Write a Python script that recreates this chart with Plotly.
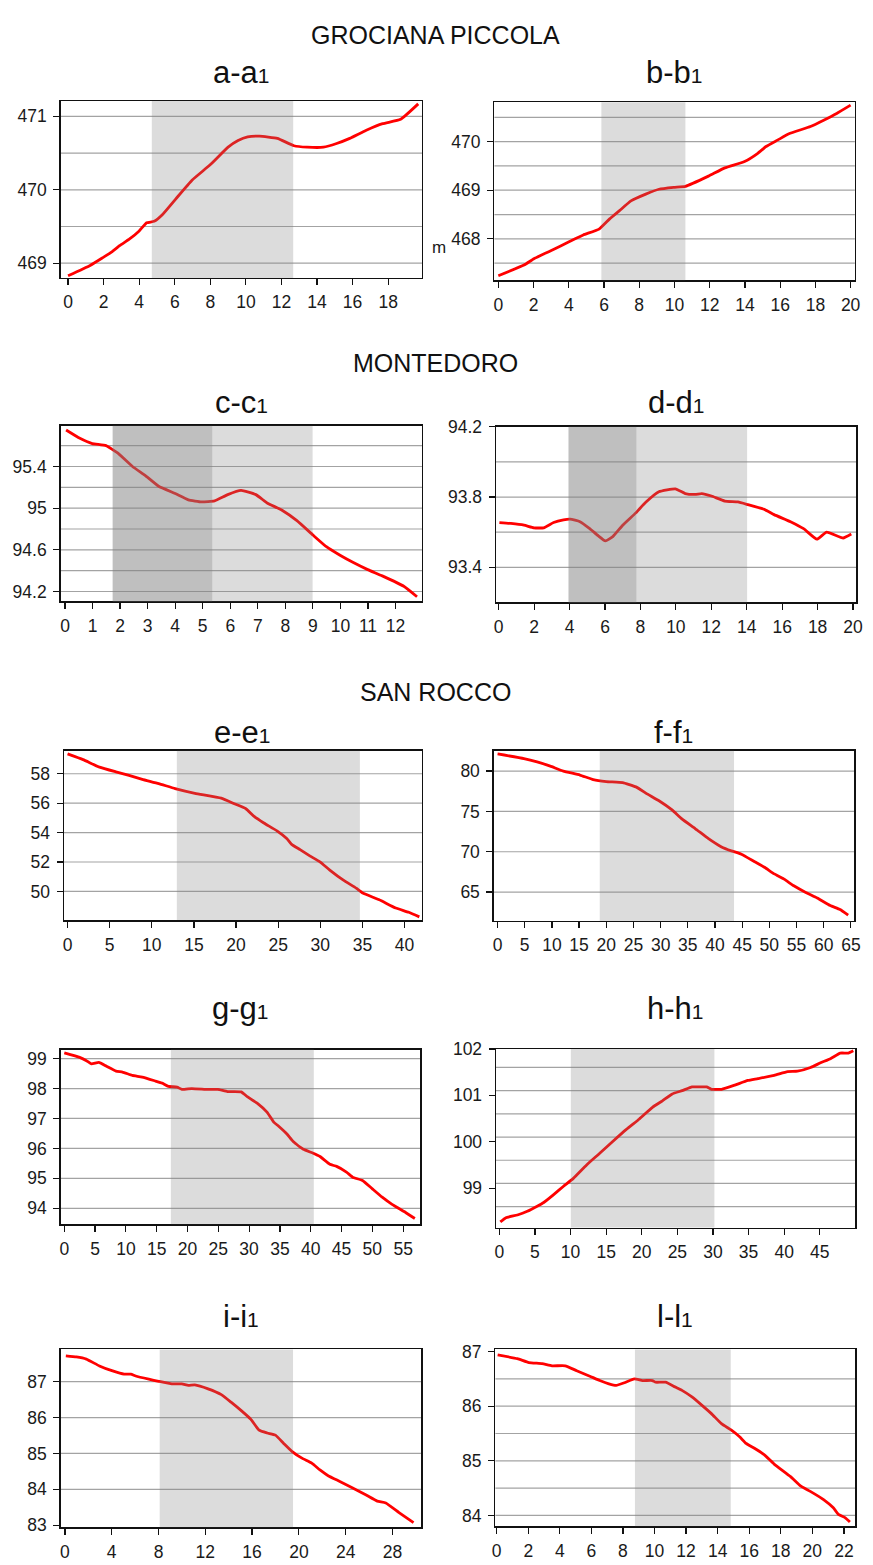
import plotly.graph_objects as go

W, H = 873, 1565

# ---------------- data ----------------
a_x = [0, 1.24, 1.98, 2.44, 2.9, 3.46, 4.0, 4.42, 4.84, 5.3, 6.04, 6.97, 7.99, 9.0, 9.56, 10.1, 10.76, 11.77, 12.7, 13.44, 14.36, 15.1, 15.84, 16.77, 17.69, 18.7, 19.69]
a_y = [468.83, 468.97, 469.08, 469.15, 469.24, 469.33, 469.44, 469.55, 469.57, 469.66, 469.87, 470.13, 470.34, 470.58, 470.67, 470.72, 470.73, 470.70, 470.60, 470.58, 470.58, 470.63, 470.70, 470.81, 470.90, 470.96, 471.17]

b_x = [0, 1.46, 2.02, 2.95, 4.07, 4.82, 5.72, 6.32, 6.88, 7.53, 8.37, 9.12, 9.96, 10.62, 11.93, 12.86, 13.98, 14.73, 15.2, 15.85, 16.5, 17.72, 18.47, 19.21, 20.0]
b_y = [467.24, 467.46, 467.59, 467.75, 467.95, 468.08, 468.20, 468.41, 468.58, 468.78, 468.92, 469.02, 469.06, 469.08, 469.29, 469.46, 469.59, 469.76, 469.90, 470.03, 470.16, 470.31, 470.44, 470.58, 470.75]

c_x = [0.04, 0.54, 0.99, 1.49, 1.91, 2.45, 2.93, 3.4, 4.0, 4.48, 4.96, 5.43, 5.91, 6.39, 6.93, 7.34, 7.88, 8.42, 9.01, 9.49, 9.97, 10.45, 10.99, 11.52, 12.3, 12.78]
c_y = [95.75, 95.67, 95.62, 95.60, 95.53, 95.40, 95.31, 95.21, 95.14, 95.08, 95.06, 95.07, 95.13, 95.17, 95.13, 95.05, 94.98, 94.88, 94.74, 94.63, 94.55, 94.48, 94.41, 94.35, 94.25, 94.15]

d_x = [0.04, 0.69, 1.43, 1.99, 2.54, 3.1, 3.66, 4.03, 4.59, 5.14, 5.61, 6.02, 6.44, 7.0, 7.74, 8.3, 9.04, 9.97, 10.53, 11.09, 11.46, 12.01, 12.76, 13.5, 14.06, 14.99, 15.54, 16.47, 17.21, 17.96, 18.51, 19.44, 19.9]
d_y = [93.655, 93.65, 93.64, 93.625, 93.625, 93.655, 93.67, 93.674, 93.66, 93.62, 93.58, 93.55, 93.575, 93.64, 93.71, 93.77, 93.83, 93.847, 93.82, 93.815, 93.82, 93.806, 93.777, 93.772, 93.757, 93.73, 93.70, 93.66, 93.62, 93.56, 93.60, 93.567, 93.59]

e_x = [0, 1.84, 3.79, 5.74, 7.3, 8.87, 10.82, 12.77, 15.12, 18.24, 19.8, 21.17, 22.15, 23.3, 24.9, 26.05, 26.6, 27.6, 28.8, 29.96, 31.13, 32.7, 34.26, 35.04, 37.0, 38.95, 40.5, 41.76]
e_y = [59.35, 58.96, 58.45, 58.13, 57.89, 57.62, 57.33, 56.99, 56.67, 56.34, 55.96, 55.62, 55.10, 54.65, 54.10, 53.58, 53.20, 52.84, 52.40, 52.01, 51.45, 50.78, 50.22, 49.89, 49.43, 48.87, 48.58, 48.27]

f_x = [0, 4.85, 7.27, 9.7, 12.1, 15.15, 17.6, 20.0, 23.0, 25.45, 27.6, 29.7, 32.1, 33.9, 36.4, 38.8, 41.2, 43.0, 44.85, 47.3, 49.1, 50.9, 52.7, 54.5, 56.7, 58.8, 61.2, 63.0, 64.5]
f_y = [82.12, 81.55, 81.14, 80.61, 80.00, 79.51, 78.94, 78.70, 78.57, 78.04, 77.14, 76.32, 75.18, 74.07, 72.85, 71.62, 70.60, 70.11, 69.70, 68.76, 68.07, 67.25, 66.60, 65.78, 64.96, 64.27, 63.33, 62.84, 62.14]

g_x = [0, 2.5, 3.6, 4.4, 5.6, 6.8, 8.4, 9.45, 11.05, 12.65, 14.8, 15.9, 16.9, 18.3, 19.1, 20.7, 23.3, 24.9, 26.5, 28.7, 29.7, 31.3, 32.9, 34.0, 34.8, 36.1, 37.2, 38.8, 40.4, 41.5, 43.1, 44.2, 45.8, 46.8, 48.4, 50.0, 51.6, 53.2, 55.4, 56.9]
g_y = [99.19, 99.04, 98.93, 98.82, 98.87, 98.75, 98.58, 98.55, 98.44, 98.38, 98.25, 98.18, 98.07, 98.05, 97.97, 98.00, 97.97, 97.97, 97.90, 97.89, 97.73, 97.51, 97.21, 96.88, 96.74, 96.49, 96.22, 95.97, 95.84, 95.73, 95.47, 95.40, 95.21, 95.04, 94.93, 94.65, 94.37, 94.13, 93.86, 93.66]

h_x = [0.14, 0.93, 2.54, 3.93, 5.32, 6.24, 7.63, 9.02, 10.4, 12.26, 14.1, 15.96, 17.8, 19.66, 21.5, 22.9, 24.28, 25.67, 27.06, 28.2, 29.1, 29.8, 31.2, 33.07, 34.9, 36.3, 38.6, 40.47, 41.86, 43.7, 45.1, 46.5, 47.87, 49.0, 49.7]
h_y = [98.27, 98.36, 98.42, 98.50, 98.61, 98.69, 98.86, 99.04, 99.21, 99.50, 99.75, 100.01, 100.26, 100.49, 100.74, 100.88, 101.03, 101.10, 101.18, 101.18, 101.18, 101.13, 101.13, 101.22, 101.32, 101.36, 101.43, 101.51, 101.52, 101.60, 101.70, 101.79, 101.91, 101.91, 101.96]

i_x = [0.08, 0.98, 1.83, 2.95, 4.08, 5.06, 5.63, 6.05, 7.17, 8.02, 9.14, 9.99, 10.55, 11.1, 12.24, 13.37, 14.2, 15.05, 15.9, 16.6, 17.3, 18.0, 18.7, 19.4, 20.26, 21.1, 21.8, 22.5, 23.5, 24.6, 25.75, 26.7, 27.43, 28.56, 29.8]
i_y = [87.72, 87.69, 87.63, 87.44, 87.30, 87.21, 87.21, 87.16, 87.07, 87.01, 86.94, 86.94, 86.90, 86.91, 86.80, 86.64, 86.43, 86.20, 85.95, 85.65, 85.57, 85.51, 85.28, 85.06, 84.87, 84.73, 84.54, 84.38, 84.22, 84.04, 83.84, 83.67, 83.62, 83.35, 83.07]

l_x = [0.06, 1.31, 2.04, 2.88, 3.5, 4.34, 5.07, 5.9, 6.53, 7.11, 7.57, 8.09, 8.72, 9.24, 9.86, 10.07, 10.7, 11.32, 11.74, 12.37, 12.99, 13.62, 14.24, 14.87, 15.39, 15.8, 16.33, 16.96, 17.58, 18.62, 19.25, 19.87, 20.71, 21.33, 21.65, 22.07, 22.38]
l_y = [86.94, 86.87, 86.80, 86.78, 86.74, 86.74, 86.65, 86.55, 86.47, 86.41, 86.38, 86.43, 86.50, 86.47, 86.47, 86.44, 86.44, 86.35, 86.29, 86.17, 86.02, 85.86, 85.68, 85.56, 85.44, 85.32, 85.23, 85.11, 84.94, 84.71, 84.54, 84.44, 84.29, 84.14, 84.02, 83.96, 83.88]

# shaded zones (distance along profile)
a_light = [4.71, 12.66]
b_light = [5.85, 10.62]
c_dark, c_light = [1.73, 5.35], [5.35, 8.99]
d_dark, d_light = [3.94, 7.78], [7.78, 14.02]
e_light = [12.97, 34.7]
f_light = [18.8, 43.5]
g_light = [17.3, 40.5]
h_light = [10.04, 30.2]
i_light = [8.1, 19.5]
l_light = [8.76, 14.83]

# axis ticks
a_xt, a_yt = list(range(0, 19, 2)), [469, 470, 471]
b_xt, b_yt = list(range(0, 21, 2)), [468, 469, 470]
c_xt, c_yt = list(range(0, 13)), [94.2, 94.6, 95, 95.4]
d_xt, d_yt = list(range(0, 21, 2)), [93.4, 93.8, 94.2]
e_xt, e_yt = list(range(0, 41, 5)), [50, 52, 54, 56, 58]
f_xt, f_yt = list(range(0, 66, 5)), [65, 70, 75, 80]
g_xt, g_yt = list(range(0, 56, 5)), [94, 95, 96, 97, 98, 99]
h_xt, h_yt = list(range(0, 46, 5)), [99, 100, 101, 102]
i_xt, i_yt = list(range(0, 29, 4)), [83, 84, 85, 86, 87]
l_xt, l_yt = list(range(0, 23, 2)), [84, 85, 86, 87]

# horizontal grid lines
a_grid = [469, 469.5, 470, 470.5, 471]
b_grid = [467.5, 468, 468.5, 469, 469.5, 470, 470.5]
c_grid = [94.2, 94.4, 94.6, 94.8, 95.0, 95.2, 95.4, 95.6]
d_grid = [93.4, 93.6, 93.8, 94.0]
e_grid = [50, 52, 54, 56, 58]
f_grid = [65, 70, 75, 80]
g_grid = [94, 95, 96, 97, 98, 99]
h_grid = [98.6, 99.1, 99.6, 100.1, 100.6, 101.1, 101.6]
i_grid = [84, 85, 86, 87]
l_grid = [84, 84.5, 85, 85.5, 86, 86.5]

def T(s):
    return s + "<span style='font-size:21px'>1</span>"

panels = [
    # name, title, box(l,r,t,b px), xr, yr, x, y, xt, yt, grid, zones
    ("a", T("a-a"), (57.3, 423.3, 92, 271), [-0.42, 19.9], [468.80, 471.21], a_x, a_y, a_xt, a_yt, a_grid, [("l", a_light)]),
    ("b", T("b-b"), (496.7, 861.7, 93.3, 273.3), [-0.22, 20.24], [467.15, 470.81], b_x, b_y, b_xt, b_yt, b_grid, [("l", b_light)]),
    ("c", T("c-c"), (57.3, 423.3, 420.7, 598.3), [-0.16, 12.96], [94.105, 95.79], c_x, c_y, c_xt, c_yt, c_grid, [("d", c_dark), ("l", c_light)]),
    ("d", T("d-d"), (498.3, 863.3, 421.7, 599.3), [-0.15, 20.19], [93.2, 94.2], d_x, d_y, d_xt, d_yt, d_grid, [("d", d_dark), ("l", d_light)]),
    ("e", T("e-e"), (60.7, 423.3, 749.3, 920.7), [-0.43, 42.07], [48.05, 59.57], e_x, e_y, e_xt, e_yt, e_grid, [("l", e_light)]),
    ("f", T("f-f"), (496, 861, 749.3, 921.7), [-0.7, 65.6], [61.4, 82.53], f_x, f_y, f_xt, f_yt, f_grid, [("l", f_light)]),
    ("g", T("g-g"), (57.3, 421.7, 1051.7, 1228.3), [-0.6, 57.8], [93.47, 99.3], g_x, g_y, g_xt, g_yt, g_grid, [("l", g_light)]),
    ("h", T("h-h"), (498.3, 862.3, 1051, 1231.7), [-0.46, 50.0], [98.15, 102.0], h_x, h_y, h_xt, h_yt, h_grid, [("l", h_light)]),
    ("i", T("i-i"), (57.3, 422.7, 1355, 1535), [-0.37, 30.47], [82.94, 87.9], i_x, i_y, i_xt, i_yt, i_grid, [("l", i_light)]),
    ("l", T("l-l"), (497.7, 862.3, 1355, 1534), [-0.08, 22.73], [83.8, 87.04], l_x, l_y, l_xt, l_yt, l_grid, [("l", l_light)]),
]

title_y = {"a": 63, "b": 63, "c": 397, "d": 397, "e": 731, "f": 731, "g": 1010, "h": 1010, "i": 1322, "l": 1322}

FONT = "Liberation Sans, Arial, sans-serif"
TICKFONT = dict(size=17.5, family=FONT, color="#1a1a1a")
fig = go.Figure()
layout = dict(
    width=W, height=H, margin=dict(l=0, r=0, t=0, b=0),
    paper_bgcolor="white", plot_bgcolor="white", showlegend=False,
    font=dict(family=FONT, color="#1a1a1a", size=16),
)
shapes, annotations = [], []

def fmt(v):
    return ("%g" % v)

for k, (name, title, box, xr, yr, xs, ys, xt, yt, grid, zones) in enumerate(panels):
    l, r, t, b = box
    n = "" if k == 0 else str(k + 1)
    xa, ya = "xaxis" + n, "yaxis" + n
    xref, yref = "x" + n, "y" + n
    common = dict(showgrid=False, zeroline=False, showline=True, linecolor="#111", linewidth=1.4,
                  mirror=True, ticks="outside", ticklen=6, tickcolor="#111", tickwidth=1.2,
                  tickfont=TICKFONT)
    layout[xa] = dict(domain=[l / W, r / W], range=xr, anchor=yref, tickvals=xt,
                      ticktext=[fmt(v) for v in xt], ticklabelstandoff=2, **common)
    layout[ya] = dict(domain=[1 - b / H, 1 - t / H], range=yr, anchor=xref, tickvals=yt,
                      ticktext=[fmt(v) for v in yt], ticklabelstandoff=3, **common)
    for gv in grid:
        shapes.append(dict(type="line", xref=xref + " domain", yref=yref, x0=0, x1=1, y0=gv, y1=gv,
                           line=dict(color="#a3a3a3", width=1.2), layer="below"))
    fig.add_trace(go.Scatter(x=xs, y=ys, mode="lines", xaxis=xref, yaxis=yref,
                             line=dict(color="#ff0000", width=2.8, shape="spline", smoothing=0.4),
                             hoverinfo="skip"))
    for kind, (z0, z1) in zones:
        col = "rgba(128,128,128,0.28)" if kind == "l" else "rgba(128,128,128,0.50)"
        shapes.append(dict(type="rect", xref=xref, yref=yref + " domain", x0=z0, x1=z1, y0=0, y1=1,
                           fillcolor=col, line=dict(width=0), layer="above"))
    annotations.append(dict(text=title, x=(l + r) / 2 / W, y=1 - title_y[name] / H, xref="paper", yref="paper",
                            showarrow=False, xanchor="center", yanchor="middle",
                            font=dict(size=31, family=FONT, color="#111")))

sections = [("GROCIANA PICCOLA", 25), ("MONTEDORO", 357), ("SAN ROCCO", 690)]
for txt, yy in sections:
    annotations.append(dict(text=txt, x=0.5, y=1 - yy / H, xref="paper", yref="paper", showarrow=False,
                            xanchor="center", yanchor="middle", font=dict(size=25, family=FONT, color="#111")))

annotations.append(dict(text="m", x=441 / W, y=1 - 240 / H, xref="paper", yref="paper", showarrow=False,
                        xanchor="center", yanchor="middle", font=dict(size=17, family=FONT, color="#1a1a1a")))

layout["shapes"] = shapes
layout["annotations"] = annotations
fig.update_layout(**layout)
fig.write_html("out.html", config={"displayModeBar": False, "staticPlot": True},
               post_script="document.body.style.margin='0';document.body.style.overflow='hidden';")
